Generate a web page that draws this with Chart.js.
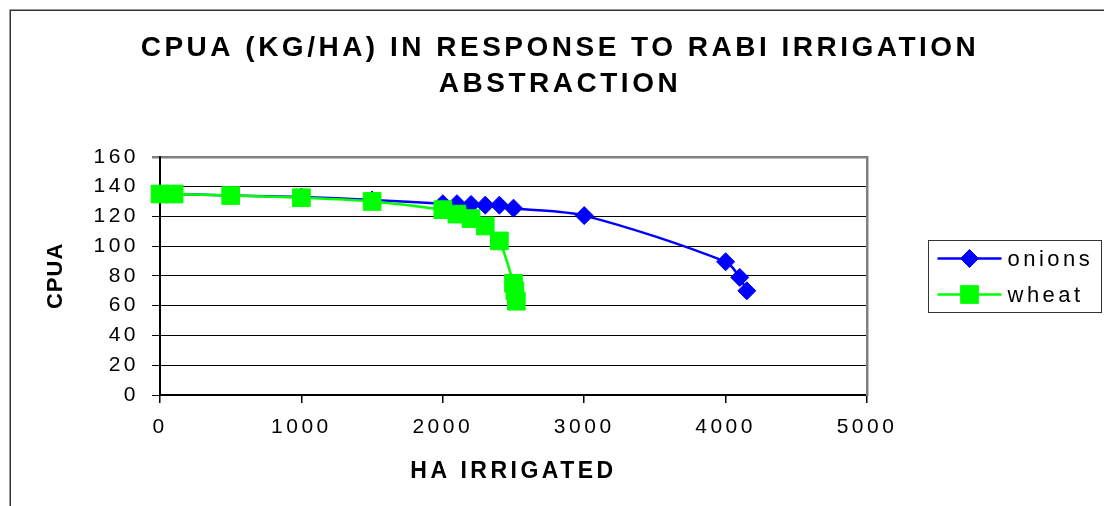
<!DOCTYPE html>
<html>
<head>
<meta charset="utf-8">
<title>CPUA response to rabi irrigation abstraction</title>
<script src="https://cdn.jsdelivr.net/npm/chart.js@4/dist/chart.umd.min.js"></script>
<style>
  html, body { margin: 0; padding: 0; background: #ffffff; }
  #wrap { width: 1104px; height: 506px; }
</style>
</head>
<body>
<div id="wrap"><canvas id="cpua" width="1104" height="506"></canvas></div>
<script>
// Hectares irrigated and catch per unit area (kg/ha) for each crop scenario
const onionsHa   = [0, 100, 500, 1000, 1500, 2000, 2100, 2200, 2300, 2400, 2500, 3000, 4000, 4100, 4150];
const onionsCpua = [135, 135, 134, 133, 131, 128.5, 128.5, 128, 127.5, 127.5, 125.5, 120.5, 89.5, 79, 70];
const wheatHa    = [0, 100, 500, 1000, 1500, 2000, 2100, 2200, 2300, 2400, 2500, 2510, 2520];
const wheatCpua  = [135, 135, 134, 132.5, 130, 124.5, 121.5, 118.5, 113.5, 103.5, 75, 70, 63];

const seriesNames = ['onions', 'wheat'];
const xTickValues = [0, 1000, 2000, 3000, 4000, 5000];
const yTickValues = [0, 20, 40, 60, 80, 100, 120, 140, 160];
const titleLines  = ['CPUA (KG/HA) IN RESPONSE TO RABI IRRIGATION', 'ABSTRACTION'];
const xAxisTitle  = 'HA IRRIGATED';
const yAxisTitle  = 'CPUA';

const FONT = "'Liberation Sans', Arial, sans-serif";

const toPoints = (xs, ys) => xs.map((x, i) => ({ x: x, y: ys[i] }));

// Wide tracking on the text; the vertical axis title is set tighter
const spacingFor = text => (text === yAxisTitle ? '1px' : '3.5px');
const letterSpacingPlugin = {
  id: 'letterSpacing',
  beforeInit(chart) {
    const ctx = chart.ctx;
    const nativeFill = CanvasRenderingContext2D.prototype.fillText;
    ctx.letterSpacing = '3.5px';
    ctx.fillText = function (text, x, y, maxWidth) {
      this.letterSpacing = spacingFor(String(text));
      if (maxWidth === undefined) return nativeFill.call(this, text, x, y);
      return nativeFill.call(this, text, x, y, maxWidth);
    };
  }
};

// Outer chart frame (top and left edges)
const framePlugin = {
  id: 'frame',
  beforeDraw(chart) {
    const ctx = chart.ctx;
    ctx.save();
    ctx.strokeStyle = '#333333';
    ctx.lineWidth = 1.5;
    ctx.beginPath();
    ctx.moveTo(10.25, chart.height);
    ctx.lineTo(10.25, 10.25);
    ctx.lineTo(chart.width, 10.25);
    ctx.stroke();
    ctx.restore();
  }
};

// Boxed legend showing line + marker for each series
const boxedLegendPlugin = {
  id: 'boxedLegend',
  afterDraw(chart) {
    const ctx = chart.ctx;
    const area = chart.chartArea;
    const sets = chart.data.datasets;
    const boxW = 173, rowH = 36;
    const boxH = rowH * sets.length;
    const left = area.right + 61.5;
    const top = Math.round((area.top + area.bottom) / 2 - boxH / 2) + 0.5;
    ctx.save();
    ctx.strokeStyle = '#333333';
    ctx.lineWidth = 1;
    ctx.strokeRect(left, top, boxW, boxH);
    sets.forEach((ds, i) => {
      const y = top + rowH / 2 + i * rowH;
      ctx.strokeStyle = ds.borderColor;
      ctx.lineWidth = ds.borderWidth;
      ctx.beginPath();
      ctx.moveTo(left + 9, y);
      ctx.lineTo(left + 73, y);
      ctx.stroke();
      ctx.fillStyle = ds.pointBackgroundColor;
      ctx.strokeStyle = ds.pointBorderColor;
      ctx.lineWidth = 1;
      Chart.helpers.drawPoint(ctx, {
        pointStyle: ds.pointStyle,
        radius: ds.pointRadius,
        rotation: 0,
        borderWidth: 1
      }, left + 41, y);
      ctx.fillStyle = '#000000';
      ctx.font = '22px ' + FONT;
      ctx.textAlign = 'left';
      ctx.textBaseline = 'middle';
      ctx.fillText(ds.label, left + 79, y + 1);
    });
    ctx.restore();
  }
};

new Chart(document.getElementById('cpua'), {
  type: 'line',
  data: {
    datasets: [
      {
        label: seriesNames[0],
        data: toPoints(onionsHa, onionsCpua),
        borderColor: '#0000ff',
        backgroundColor: '#0000ff',
        pointBackgroundColor: '#0000ff',
        pointBorderColor: '#0000ff',
        borderWidth: 2.5,
        pointStyle: 'rectRot',
        pointRadius: 9,
        pointBorderWidth: 1,
        tension: 0.3,
        fill: false,
        clip: false,
        order: 2
      },
      {
        label: seriesNames[1],
        data: toPoints(wheatHa, wheatCpua),
        borderColor: '#00ff00',
        backgroundColor: '#00ff00',
        pointBackgroundColor: '#00ff00',
        pointBorderColor: '#00ff00',
        borderWidth: 2.5,
        pointStyle: 'rect',
        pointRadius: 12.5,
        pointBorderWidth: 1,
        tension: 0.3,
        fill: false,
        clip: false,
        order: 1
      }
    ]
  },
  options: {
    responsive: false,
    animation: false,
    devicePixelRatio: 1,
    layout: { padding: { left: 16, right: 0, top: 0, bottom: 20 } },
    plugins: {
      legend: { display: false },
      tooltip: { enabled: false },
      title: {
        display: true,
        text: titleLines,
        color: '#000000',
        font: { family: FONT, size: 28, weight: 'bold', lineHeight: 1.3 },
        padding: { top: 30, bottom: 54 }
      }
    },
    scales: {
      x: {
        type: 'linear',
        position: 'bottom',
        min: 0,
        max: 5000,
        afterBuildTicks(scale) { scale.ticks = xTickValues.map(v => ({ value: v })); },
        afterFit(scale) { scale.height = 91; },
        ticks: {
          color: '#000000',
          font: { family: FONT, size: 21 },
          padding: 12,
          maxRotation: 0,
          autoSkip: false,
          callback: v => String(v)
        },
        grid: {
          drawOnChartArea: false,
          drawTicks: true,
          tickLength: 8,
          color: '#000000',
          lineWidth: 1.5
        },
        border: { display: true, color: '#000000', width: 1.5 },
        title: {
          display: true,
          text: xAxisTitle,
          color: '#000000',
          font: { family: FONT, size: 23, weight: 'bold', lineHeight: 1.2 },
          padding: { top: 0, bottom: 1 }
        }
      },
      y: {
        type: 'linear',
        position: 'left',
        min: 0,
        max: 160,
        afterBuildTicks(scale) { scale.ticks = yTickValues.map(v => ({ value: v })); },
        afterFit(scale) { scale.width = 144; },
        ticks: {
          color: '#000000',
          font: { family: FONT, size: 21 },
          padding: 13,
          callback: v => String(v)
        },
        grid: {
          drawOnChartArea: true,
          drawTicks: true,
          tickLength: 8,
          color: ctx => (ctx.tick && ctx.tick.value === 160 ? '#808080' : '#000000'),
          lineWidth: ctx => (ctx.tick && ctx.tick.value === 160 ? 2.5 : 1)
        },
        border: { display: true, color: '#000000', width: 2 },
        title: {
          display: true,
          text: yAxisTitle,
          color: '#000000',
          font: { family: FONT, size: 22, weight: 'bold', lineHeight: 1.2 },
          padding: { top: 27, bottom: 0 }
        }
      },
      // Right-hand edge of the plot frame; its width reserves room for the legend
      frameRight: {
        type: 'linear',
        position: 'right',
        display: true,
        min: 0,
        max: 160,
        afterFit(scale) { scale.width = 237; },
        ticks: { display: false },
        grid: { display: false, drawTicks: false },
        border: { display: true, color: '#808080', width: 2.5 }
      }
    }
  },
  plugins: [letterSpacingPlugin, framePlugin, boxedLegendPlugin]
});
</script>
</body>
</html>
